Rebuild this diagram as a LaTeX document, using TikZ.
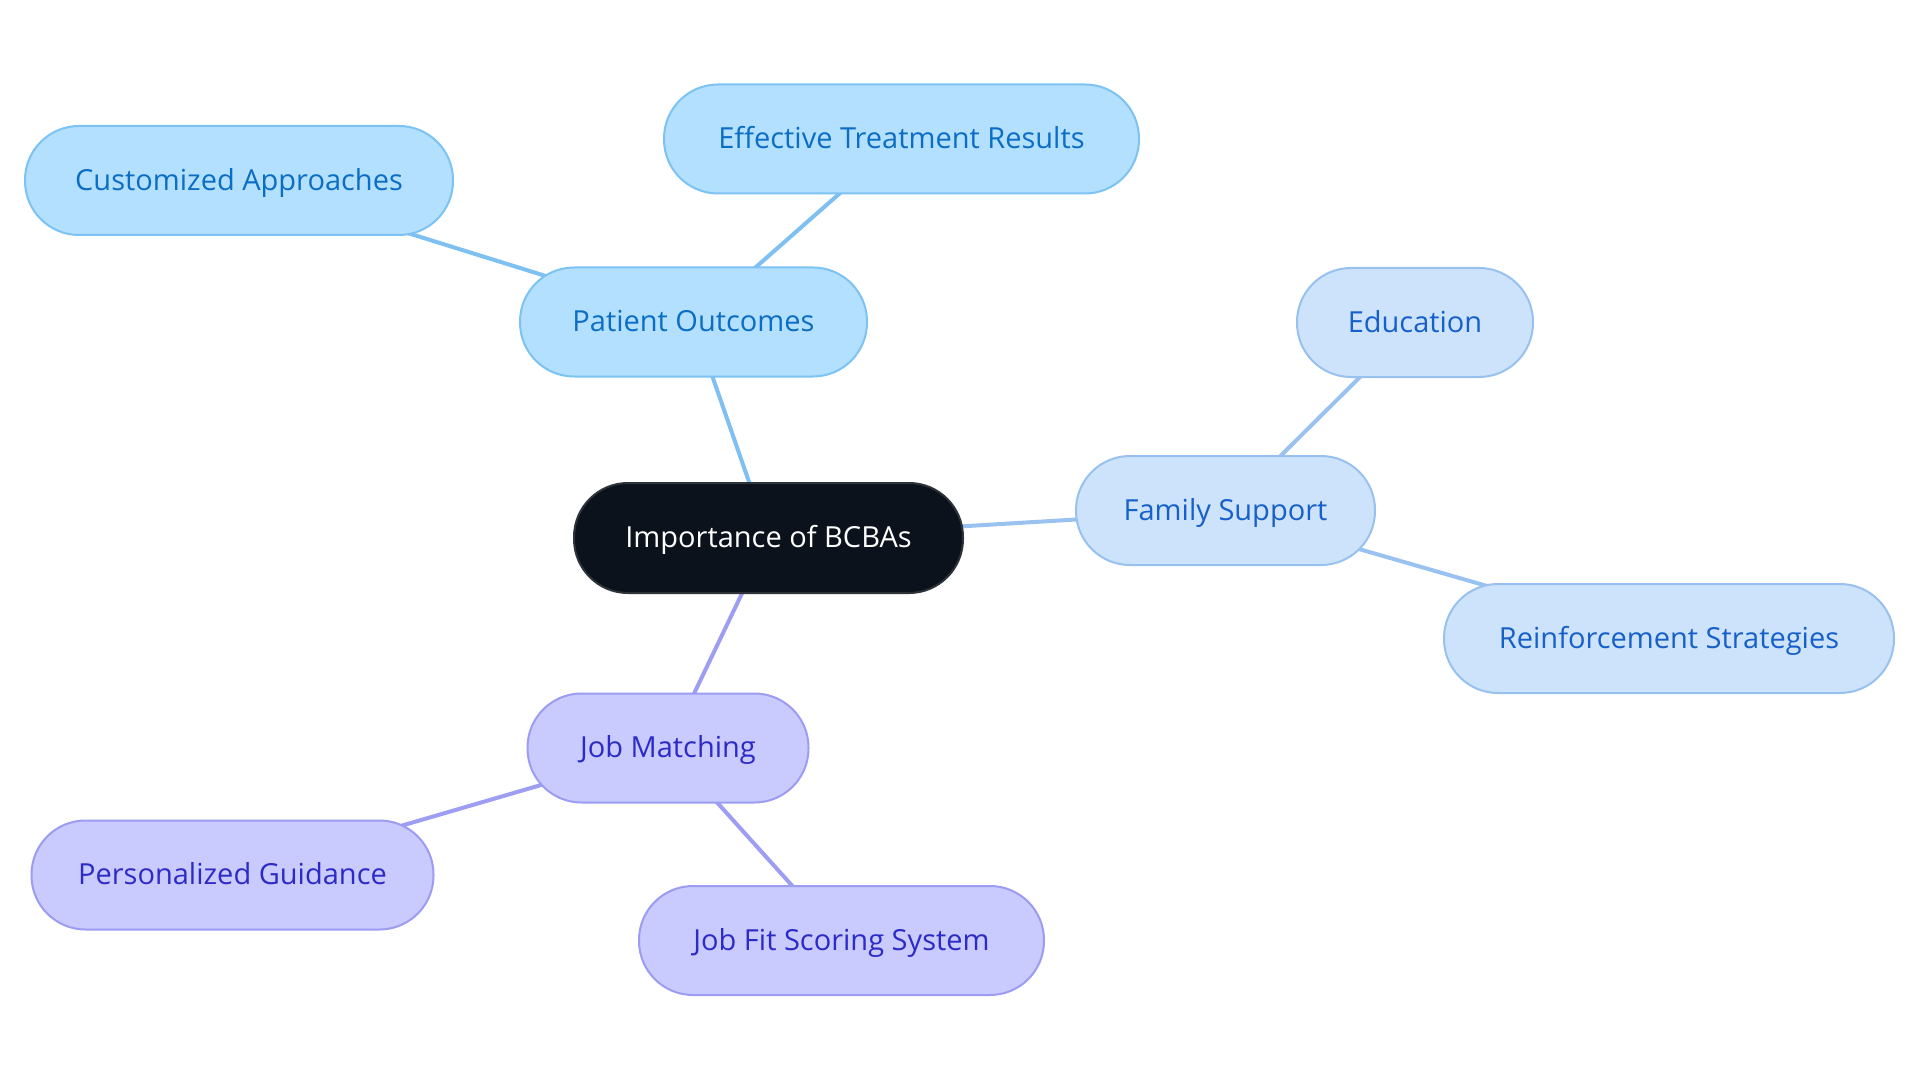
\documentclass[tikz,border=0pt]{standalone}
\usepackage{fontspec}
\setmainfont{Open Sans}
\usetikzlibrary{backgrounds}
\definecolor{poFill}{HTML}{B3E0FE}
\definecolor{poDraw}{HTML}{7CC3F3}
\definecolor{poText}{HTML}{0B6EC4}
\definecolor{poLine}{HTML}{7DC0F1}
\definecolor{fsFill}{HTML}{CCE3FB}
\definecolor{fsDraw}{HTML}{98C1F0}
\definecolor{fsText}{HTML}{1760C9}
\definecolor{fsLine}{HTML}{9AC2F0}
\definecolor{jmFill}{HTML}{C9CAFD}
\definecolor{jmDraw}{HTML}{9B9CF2}
\definecolor{jmText}{HTML}{2D2BC8}
\definecolor{jmLine}{HTML}{9D9EF2}
\definecolor{ctFill}{HTML}{0C121B}
\definecolor{ctDraw}{HTML}{2E333A}
\tikzset{
  pill/.style={rectangle, rounded corners=54pt, minimum height=109pt, line width=2pt,
    inner sep=0pt, text height=19.5pt, text depth=0pt,
    font=\fontsize{29}{35}\selectfont},
  ponode/.style={pill, fill=poFill, draw=poDraw, text=poText},
  fsnode/.style={pill, fill=fsFill, draw=fsDraw, text=fsText},
  jmnode/.style={pill, fill=jmFill, draw=jmDraw, text=jmText},
  ctnode/.style={pill, fill=ctFill, draw=ctDraw, text=white, minimum height=110pt},
  poedge/.style={draw=poLine, line width=4pt},
  fsedge/.style={draw=fsLine, line width=4pt},
  jmedge/.style={draw=jmLine, line width=4pt},
}
\begin{document}
\begin{tikzpicture}[x=1pt,y=-1pt]
\useasboundingbox (0,0) rectangle (1920,1083);
\node[ctnode, minimum width=389pt] (ct) at (768.5,538) {Importance of BCBAs};
\node[ponode, minimum width=347pt] (po) at (693.5,322) {Patient Outcomes};
\node[ponode, minimum width=475pt] (etr) at (901.5,139) {Effective Treatment Results};
\node[ponode, minimum width=428pt] (ca) at (239,180.5) {Customized Approaches};
\node[fsnode, minimum width=299pt] (fs) at (1225.5,510.5) {Family Support};
\node[fsnode, minimum width=236pt] (edu) at (1415,322.5) {Education};
\node[fsnode, minimum width=450pt] (rs) at (1669,638.5) {Reinforcement Strategies};
\node[jmnode, minimum width=281pt] (jm) at (668,748) {Job Matching};
\node[jmnode, minimum width=402pt] (pg) at (232.5,875) {Personalized Guidance};
\node[jmnode, minimum width=405pt] (jfs) at (841.5,940.5) {Job Fit Scoring System};
\begin{scope}[on background layer]
\draw[poedge] (ct.center) -- (po.center);
\draw[poedge] (po.center) -- (etr.center);
\draw[poedge] (po.center) -- (ca.center);
\draw[fsedge] (ct.center) -- (fs.center);
\draw[fsedge] (fs.center) -- (edu.center);
\draw[fsedge] (fs.center) -- (rs.center);
\draw[jmedge] (ct.center) -- (jm.center);
\draw[jmedge] (jm.center) -- (pg.center);
\draw[jmedge] (jm.center) -- (jfs.center);
\end{scope}
\end{tikzpicture}
\end{document}
